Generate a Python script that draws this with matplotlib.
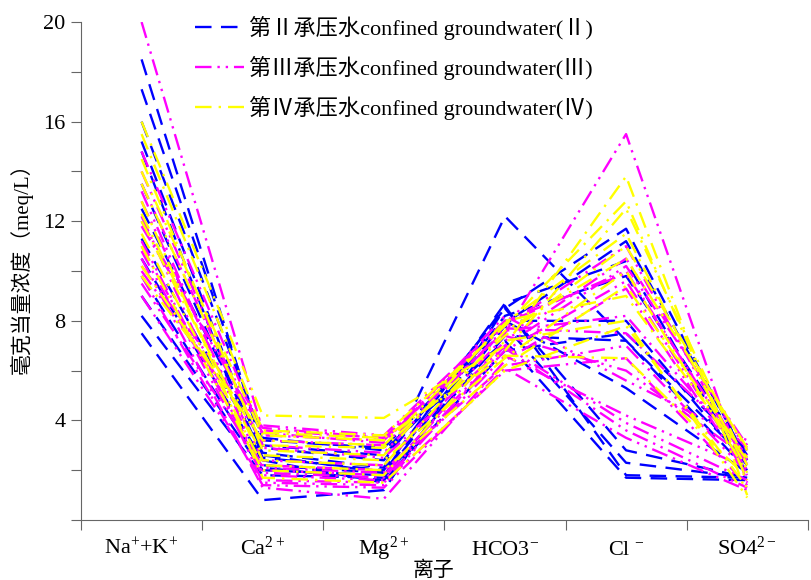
import numpy as np
import matplotlib
matplotlib.use("Agg")
import matplotlib.pyplot as plt

plt.rcParams['font.family'] = ['Liberation Serif', 'Noto Sans CJK SC', 'DejaVu Sans']
plt.rcParams['mathtext.fontset'] = 'custom'
plt.rcParams['mathtext.rm'] = 'Liberation Serif'
plt.rcParams['mathtext.it'] = 'Liberation Serif'

# Ions (x categories)
ions = [r'Na$^{+}$+K$^{+}$', r'Ca$^{2+}$', r'Mg$^{2+}$', r'HCO3$^{-}$', r'Cl $^{-}$', r'SO4$^{2-}$']

# Confined groundwater II (meq/L): Na+K, Ca, Mg, HCO3, Cl, SO4
grp2 = [
    [18.5, 2.9, 2.4, 8.5, 11.7, 2.4],
    [17.3, 3.2, 2.9, 7.9, 11.2, 2.5],
    [15.2, 2.6, 1.9, 8.7, 10.4, 1.9],
    [14.8, 2.2, 1.9, 8.2, 9.8, 2.6],
    [11.3, 2.7, 2.1, 12.2, 7.2, 2.0],
    [9.0, 2.0, 1.8, 8.0, 8.0, 2.2],
    [8.2, 1.8, 1.7, 7.4, 7.2, 2.4],
    [7.5, 0.8, 1.2, 8.5, 2.8, 1.7],
    [12.5, 3.0, 2.6, 8.0, 5.3, 1.9],
    [10.5, 2.4, 1.5, 7.8, 2.3, 1.7],
    [13.5, 2.5, 2.0, 8.6, 1.8, 1.7],
    [16.0, 3.3, 2.8, 7.2, 1.7, 1.6],
    [9.8, 2.1, 1.6, 6.8, 7.5, 2.8],
]

# Confined groundwater III
grp3 = [
    [20.0, 3.6, 3.3, 7.5, 15.5, 1.5],
    [14.8, 3.4, 3.2, 7.8, 11.0, 2.2],
    [13.2, 2.0, 1.8, 7.2, 10.5, 2.8],
    [12.2, 1.5, 1.4, 7.0, 10.2, 3.0],
    [11.8, 3.8, 3.4, 8.0, 9.9, 2.4],
    [11.2, 1.9, 1.7, 6.8, 9.6, 2.0],
    [10.5, 1.3, 0.85, 6.4, 9.3, 1.8],
    [10.0, 3.2, 3.0, 7.6, 8.2, 2.6],
    [9.5, 2.2, 2.0, 6.2, 7.0, 1.9],
    [9.0, 1.6, 1.5, 6.0, 6.5, 1.4],
    [12.8, 2.4, 2.2, 7.4, 6.0, 2.5],
    [12.0, 3.5, 3.1, 8.2, 5.6, 3.2],
    [10.8, 1.8, 1.6, 6.6, 4.2, 2.1],
    [14.0, 2.9, 2.5, 7.0, 3.9, 1.6],
    [11.0, 2.1, 1.9, 6.9, 3.6, 1.3],
    [9.8, 1.4, 1.3, 6.1, 3.3, 1.2],
    [13.5, 3.0, 2.7, 7.7, 7.5, 2.9],
    [10.2, 3.7, 3.3, 7.9, 10.0, 2.3],
]

# Confined groundwater IV
grp4 = [
    [16.0, 4.2, 4.1, 7.0, 13.8, 1.0],
    [15.5, 3.6, 3.4, 7.8, 12.8, 1.6],
    [14.0, 3.4, 3.2, 6.8, 12.5, 2.2],
    [13.5, 3.0, 2.9, 7.4, 11.0, 2.8],
    [12.0, 2.6, 2.4, 6.5, 10.0, 1.9],
    [11.5, 2.2, 2.0, 6.2, 9.4, 2.5],
    [12.8, 1.7, 1.5, 6.0, 7.8, 1.3],
    [11.0, 2.0, 1.8, 7.2, 8.0, 0.9],
    [10.2, 3.2, 3.0, 7.9, 11.5, 2.0],
    [14.5, 2.8, 2.6, 8.0, 9.0, 2.4],
    [9.8, 3.5, 3.3, 6.6, 6.5, 1.7],
    [12.3, 2.4, 2.2, 7.6, 10.5, 2.9],
]

labels = ['第Ⅱ承压水confined groundwater(Ⅱ)',
          '第Ⅲ承压水confined groundwater(Ⅲ)',
          '第Ⅳ承压水confined groundwater(Ⅳ)']

fig = plt.figure(figsize=(8.11, 5.8), dpi=100)
ax = fig.add_axes([0.0999, 0.1034, 0.8961, 0.8586])

x = np.arange(len(ions))
styles = [
    dict(color='#0000ff', dashes=(7, 4)),
    dict(color='#ff00ff', dashes=(7, 2.5, 1, 2.5, 1, 2.5)),
    dict(color='#ffff00', dashes=(7, 3, 1, 3)),
]
for grp, st, lab in zip([grp2, grp3, grp4], styles, labels):
    for i, row in enumerate(grp):
        ax.plot(x, row, lw=1.7, label=lab if i == 0 else None, **st)

ax.set_xlim(-0.5, 5.5)
ax.set_ylim(0, 20)
ax.set_xticks(np.arange(-0.5, 6, 1))
ax.set_xticklabels([])
ax.tick_params(axis='x', which='major', length=7, direction='out', color='#666666')
# ion names on a common baseline, centred in each bin
for xi, name in zip(x, ions):
    ax.text(xi, -0.07, name, transform=ax.get_xaxis_transform(),
            ha='center', va='baseline', fontsize=16)

ax.set_yticks(np.arange(0, 21, 2))
ax.set_yticklabels(['' if (v % 4 or v == 0) else str(v) for v in range(0, 21, 2)], fontsize=16)
ax.tick_params(axis='y', length=7, direction='out', color='#666666', pad=4)

for s in ['top', 'right']:
    ax.spines[s].set_visible(False)
for s in ['left', 'bottom']:
    ax.spines[s].set_color('#666666')

ax.set_ylabel('毫克当量浓度（meq/L）', fontsize=15)
ax.yaxis.set_label_coords(-0.066, 0.515)
fig.text(0.534, -0.002, '离子', fontsize=15, ha='center', va='bottom')

leg = ax.legend(loc='upper left', bbox_to_anchor=(0.130, 1.053), frameon=False,
                fontsize=16, handlelength=2.2, labelspacing=0.72, handletextpad=0.2)

fig.savefig('out.png', dpi=100)
